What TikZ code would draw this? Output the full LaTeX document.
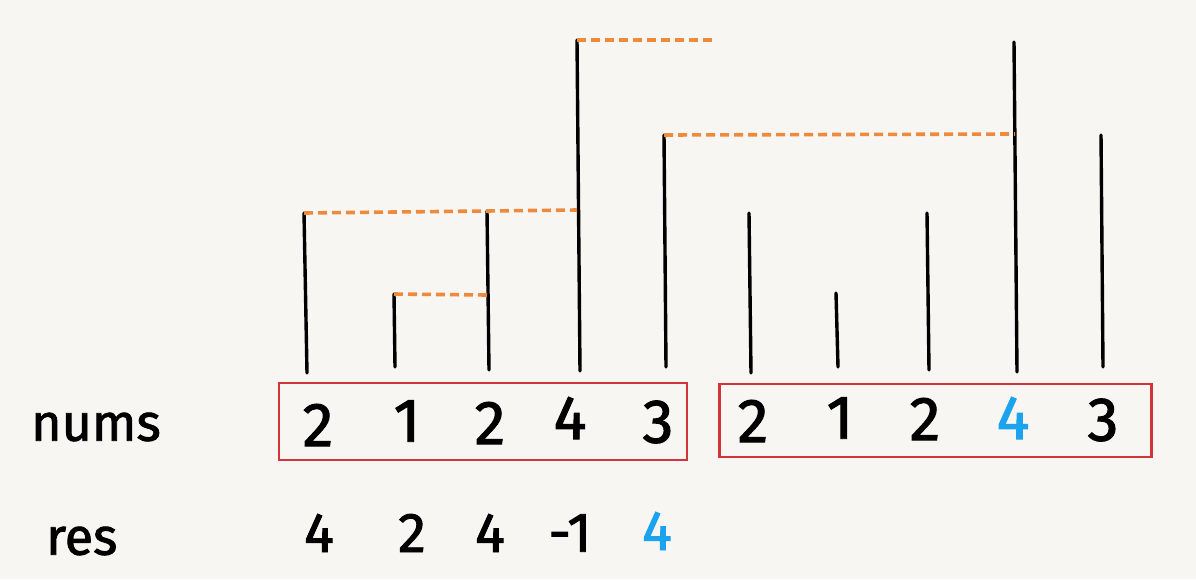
\documentclass[tikz,border=0pt]{standalone}
\usepackage{fontspec}
\setmainfont{Fira Sans}
\newfontfamily\heavyfont{Fira Sans}[FakeBold=1.6]
\definecolor{bg}{HTML}{F8F6F3}
\definecolor{dashorange}{HTML}{EE8A3C}
\definecolor{hlblue}{HTML}{1CA3EE}
\definecolor{boxred}{HTML}{D3343C}
\tikzset{
  x=1pt, y=-1pt,
  bar/.style={line width=3.4pt, black, line cap=round},
  guide/.style={line width=3.6pt, dashorange, dash pattern=on 9pt off 5pt},
  numbox/.style={draw=boxred, line width=2.4pt, rectangle, inner sep=0pt},
  digit/.style={font=\heavyfont\fontsize{62}{62}\selectfont, inner sep=0pt, text=black},
  resdigit/.style={font=\heavyfont\fontsize{56}{56}\selectfont, inner sep=0pt, text=black},
  label/.style={font=\heavyfont\fontsize{52}{52}\selectfont, inner sep=0pt, text=black, anchor=west},
}
\begin{document}
\begin{tikzpicture}
\fill[bg] (0,0) rectangle (1196,579);
\useasboundingbox (0,0) rectangle (1196,579);

% bars: top and bottom coordinates
\coordinate (t1) at (304,213); \coordinate (b1) at (307,373);
\coordinate (t2) at (394,294); \coordinate (b2) at (395,367);
\coordinate (t3) at (487,211); \coordinate (b3) at (489,370);
\coordinate (t4) at (577,40);  \coordinate (b4) at (580,371);
\coordinate (t5) at (664,135); \coordinate (b5) at (666,367);
\coordinate (t6) at (749,213); \coordinate (b6) at (751,373);
\coordinate (t7) at (836,293); \coordinate (b7) at (838,367);
\coordinate (t8) at (927,213); \coordinate (b8) at (929,370);
\coordinate (t9) at (1014,42); \coordinate (b9) at (1017,372);
\coordinate (t10) at (1101,135); \coordinate (b10) at (1103,367);
\foreach \i in {1,...,10} { \draw[bar] (t\i) -- (b\i); }

% orange guides
\coordinate (g1) at (577,210);
\coordinate (g3) at (487,295);
\coordinate (g4) at (715,40);
\coordinate (g9) at (1015,134);
\draw[guide] (t1) -- (g1);
\draw[guide] (t2) -- (g3);
\draw[guide] (t4) -- (g4);
\draw[guide] (t5) -- (g9);

% boxes
\node[numbox, minimum width=408pt, minimum height=77pt] (boxL) at (483,421.5) {};
\node[numbox, minimum width=432pt, minimum height=73pt] (boxR) at (935.5,420.5) {};

% labels
\node[label] (nums) at (31,427) {nums};
\node[label] (res) at (46,541) {res};

% nums digits
\node[digit] (n1) at (318,425) {2};
\node[digit] (n2) at (407,421) {1};
\node[digit] (n3) at (490,423) {2};
\node[digit] (n4) at (570,418) {4};
\node[digit] (n5) at (658,422) {3};
\node[digit] (n6) at (753,421) {2};
\node[digit] (n7) at (840,418) {1};
\node[digit] (n8) at (925,419) {2};
\node[digit, text=hlblue] (n9) at (1013,418) {4};
\node[digit] (n10) at (1103,420) {3};

% res digits
\node[resdigit] (r1) at (319,533) {4};
\node[resdigit] (r2) at (412,533) {2};
\node[resdigit] (r3) at (490,533) {4};
\node[resdigit] (r4) at (570,533) {-1};
\node[resdigit, text=hlblue] (r5) at (657,531) {4};
\end{tikzpicture}
\end{document}
